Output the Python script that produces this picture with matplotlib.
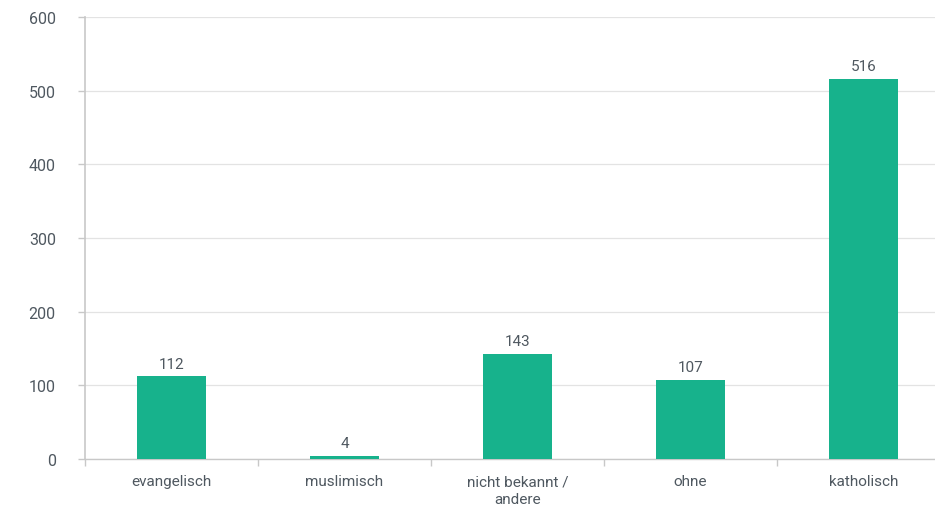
import matplotlib
matplotlib.use("Agg")
import matplotlib.pyplot as plt
import numpy as np

categories = ["evangelisch", "muslimisch", "nicht bekannt /\nandere", "ohne", "katholisch"]
values = [112, 4, 143, 107, 516]
y_ticks = [0, 100, 200, 300, 400, 500, 600]

bar_color = "#17b28c"
text_color = "#4f5860"
grid_color = "#e3e3e3"
axis_color = "#c8c8c8"

plt.rcParams["font.family"] = ["Roboto", "DejaVu Sans"]

fig = plt.figure(figsize=(9.35, 5.06), dpi=100)
ax = fig.add_axes([85 / 935, 46 / 506, 865 / 935, 442 / 506])

x = np.arange(len(categories))
ax.bar(x, values, width=0.4, color=bar_color, zorder=3)

for xi, v in zip(x, values):
    ax.text(xi, v + 8, str(v), ha="center", va="bottom", fontsize=11,
            color=text_color, zorder=4)

ax.set_xlim(-0.5, len(categories) - 0.5)
ax.set_ylim(0, 600)
ax.set_yticks(y_ticks)
ax.set_yticklabels([str(t) for t in y_ticks], fontsize=11.5, color=text_color)
ax.yaxis.grid(True, color=grid_color, linewidth=0.9, zorder=0)

ax.set_xticks(x)
ax.set_xticklabels(categories, fontsize=11, color=text_color, va="top",
                   linespacing=1.35)
ax.tick_params(axis="x", length=0, pad=11)
ax.set_xticks(np.arange(len(categories) + 1) - 0.5, minor=True)
ax.tick_params(axis="x", which="minor", length=5, color=axis_color, width=1)
ax.tick_params(axis="y", length=5, color=axis_color, width=1, pad=16)

for side in ["top", "right"]:
    ax.spines[side].set_visible(False)
ax.spines["left"].set_color(axis_color)
ax.spines["left"].set_linewidth(1.2)
ax.spines["bottom"].set_color(axis_color)
ax.spines["bottom"].set_linewidth(1.0)

fig.savefig("out.png", dpi=100)
